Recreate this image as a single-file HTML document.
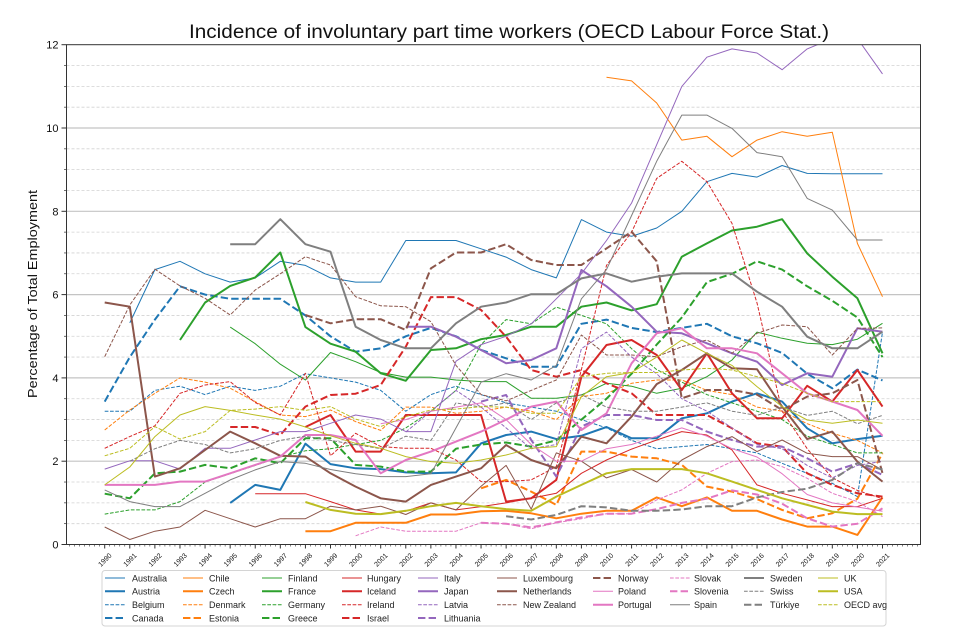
<!DOCTYPE html>
<html>
<head>
<meta charset="utf-8">
<style>
html,body{margin:0;padding:0;background:#fff;}
svg{display:block;font-family:"Liberation Sans","DejaVu Sans",sans-serif;}
</style>
</head>
<body>
<svg id="c" width="960" height="640" viewBox="0 0 960 640" xmlns="http://www.w3.org/2000/svg">
<rect x="0" y="0" width="960" height="640" fill="#fff"/>
<defs><clipPath id="pc"><rect x="66.5" y="44.7" width="854" height="499.8"/></clipPath></defs>
<g id="grid"></g>
<g id="series" clip-path="url(#pc)"></g>
<g id="ticks"></g>
<rect x="66.5" y="44.7" width="854" height="499.8" fill="none" stroke="#333" stroke-width="1"/>

<text x="509" y="38" font-size="19" text-anchor="middle" textLength="640" lengthAdjust="spacingAndGlyphs" fill="#111">Incidence of involuntary part time workers (OECD Labour Force Stat.)</text>
<text transform="translate(37,294) rotate(-90)" font-size="13" text-anchor="middle" textLength="208" lengthAdjust="spacingAndGlyphs" fill="#111">Percentage of Total Employment</text>

<g font-size="11" text-anchor="end" fill="#111">
<text x="58.5" y="548.5">0</text>
<text x="58.5" y="465.2">2</text>
<text x="58.5" y="381.9">4</text>
<text x="58.5" y="298.6">6</text>
<text x="58.5" y="215.3">8</text>
<text x="58.5" y="132">10</text>
<text x="58.5" y="48.7">12</text>
</g>

<g font-size="7" text-anchor="middle" dominant-baseline="central" fill="#111">
<text transform="translate(105.5,560.5) rotate(-45)">1990</text>
<text transform="translate(130.6,560.5) rotate(-45)">1991</text>
<text transform="translate(155.7,560.5) rotate(-45)">1992</text>
<text transform="translate(180.8,560.5) rotate(-45)">1993</text>
<text transform="translate(205.9,560.5) rotate(-45)">1994</text>
<text transform="translate(231.0,560.5) rotate(-45)">1995</text>
<text transform="translate(256.0,560.5) rotate(-45)">1996</text>
<text transform="translate(281.1,560.5) rotate(-45)">1997</text>
<text transform="translate(306.2,560.5) rotate(-45)">1998</text>
<text transform="translate(331.3,560.5) rotate(-45)">1999</text>
<text transform="translate(356.4,560.5) rotate(-45)">2000</text>
<text transform="translate(381.5,560.5) rotate(-45)">2001</text>
<text transform="translate(406.6,560.5) rotate(-45)">2002</text>
<text transform="translate(431.7,560.5) rotate(-45)">2003</text>
<text transform="translate(456.8,560.5) rotate(-45)">2004</text>
<text transform="translate(481.9,560.5) rotate(-45)">2005</text>
<text transform="translate(506.9,560.5) rotate(-45)">2006</text>
<text transform="translate(532.0,560.5) rotate(-45)">2007</text>
<text transform="translate(557.1,560.5) rotate(-45)">2008</text>
<text transform="translate(582.2,560.5) rotate(-45)">2009</text>
<text transform="translate(607.3,560.5) rotate(-45)">2010</text>
<text transform="translate(632.4,560.5) rotate(-45)">2011</text>
<text transform="translate(657.5,560.5) rotate(-45)">2012</text>
<text transform="translate(682.6,560.5) rotate(-45)">2013</text>
<text transform="translate(707.7,560.5) rotate(-45)">2014</text>
<text transform="translate(732.7,560.5) rotate(-45)">2015</text>
<text transform="translate(757.8,560.5) rotate(-45)">2016</text>
<text transform="translate(782.9,560.5) rotate(-45)">2017</text>
<text transform="translate(808.0,560.5) rotate(-45)">2018</text>
<text transform="translate(833.1,560.5) rotate(-45)">2019</text>
<text transform="translate(858.2,560.5) rotate(-45)">2020</text>
<text transform="translate(883.3,560.5) rotate(-45)">2021</text>
</g>

<rect x="102" y="570.5" width="784" height="55.5" rx="3" ry="3" fill="#fff" stroke="#d4d4d4" stroke-width="1"/>
<g id="leglines"></g>
<g font-size="9" fill="#222">
<text x="132" y="581.3">Australia</text>
<text x="132" y="594.6">Austria</text>
<text x="132" y="608">Belgium</text>
<text x="132" y="621.3">Canada</text>
<text x="209" y="581.3">Chile</text>
<text x="209" y="594.6">Czech</text>
<text x="209" y="608">Denmark</text>
<text x="209" y="621.3">Estonia</text>
<text x="288" y="581.3">Finland</text>
<text x="288" y="594.6">France</text>
<text x="288" y="608">Germany</text>
<text x="288" y="621.3">Greece</text>
<text x="367" y="581.3">Hungary</text>
<text x="367" y="594.6">Iceland</text>
<text x="367" y="608">Ireland</text>
<text x="367" y="621.3">Israel</text>
<text x="444" y="581.3">Italy</text>
<text x="444" y="594.6">Japan</text>
<text x="444" y="608">Latvia</text>
<text x="444" y="621.3">Lithuania</text>
<text x="523" y="581.3">Luxembourg</text>
<text x="523" y="594.6">Netherlands</text>
<text x="523" y="608">New Zealand</text>
<text x="618" y="581.3">Norway</text>
<text x="618" y="594.6">Poland</text>
<text x="618" y="608">Portugal</text>
<text x="694" y="581.3">Slovak</text>
<text x="694" y="594.6">Slovenia</text>
<text x="694" y="608">Spain</text>
<text x="770" y="581.3">Sweden</text>
<text x="770" y="594.6">Swiss</text>
<text x="770" y="608">Türkiye</text>
<text x="844" y="581.3">UK</text>
<text x="844" y="594.6">USA</text>
<text x="844" y="608">OECD avg</text>
</g>
</svg>
<script>
(function(){
var NS="http://www.w3.org/2000/svg";
function X(y){return 104.7+(y-1990)*25.09;}
function Y(v){return 544.5-v*41.65;}
function el(t,a,p){var e=document.createElementNS(NS,t);for(var k in a)e.setAttribute(k,a[k]);p.appendChild(e);return e;}
var grid=document.getElementById('grid'),ticks=document.getElementById('ticks');
// minor grid dashed
for(var v=0.5;v<12;v+=0.5){
  if(Math.abs(v/2-Math.round(v/2))<1e-6) continue;
  el('line',{x1:66.5,x2:920.5,y1:Y(v),y2:Y(v),stroke:'#d2d2d2','stroke-width':0.8,'stroke-dasharray':'3,2'},grid);
}
for(var v=2;v<12;v+=2){
  el('line',{x1:66.5,x2:920.5,y1:Y(v),y2:Y(v),stroke:'#c4c4c4','stroke-width':1.2},grid);
}
// y ticks
for(var v=0;v<=12;v+=0.5){
  var maj=Math.abs(v/2-Math.round(v/2))<1e-6;
  el('line',{x1:66.5-(maj?5:2.5),x2:66.5,y1:Y(v),y2:Y(v),stroke:'#333','stroke-width':maj?1:0.7},ticks);
}
// x ticks
for(var i=0;i<=170;i++){
  var yr=1988.6+i*0.2; if(yr>2022.45) break;
  var maj=Math.abs(yr-Math.round(yr))<1e-6;
  var isYear=maj&&Math.round(yr)>=1990&&Math.round(yr)<=2021;
  el('line',{x1:X(yr),x2:X(yr),y1:544.5,y2:544.5+(isYear?4:2),stroke:'#333','stroke-width':isYear?1:0.6},ticks);
}
var B='#1f77b4',O='#ff7f0e',G='#2ca02c',R='#d62728',P='#9467bd',N='#8c564b',K='#e377c2',A='#7f7f7f',L='#bcbd22';
// [color, thick, dashed, start, values]
var S=[
[B,0,0,1991,[5.32,6.6,6.8,6.5,6.3,6.4,6.8,6.7,6.4,6.3,6.3,7.3,7.3,7.3,7.1,6.9,6.6,6.4,7.8,7.5,7.4,7.6,8.0,8.71,8.91,8.82,9.1,8.91,8.9,8.9,8.9]],
[B,1,0,1995,[1.0,1.43,1.31,2.42,1.93,1.83,1.81,1.73,1.71,1.73,2.43,2.63,2.71,2.53,2.61,2.82,2.55,2.55,3.03,3.15,3.43,3.63,3.43,2.79,2.43,2.53,2.61]],
[B,0,1,1990,[3.2,3.2,3.7,3.8,3.6,3.8,3.7,3.8,4.1,4.0,3.9,3.7,3.2,3.6,3.8,3.6,3.4,3.3,3.2,3.0,2.8,2.5,2.3,2.35,2.4,2.3,2.2,1.95,1.71,1.47,1.15,5.1]],
[B,1,1,1990,[3.43,4.5,5.4,6.2,6.0,5.9,5.9,5.9,5.5,5.0,4.63,4.71,5.0,5.2,5.0,4.67,4.47,4.27,4.27,5.3,5.4,5.2,5.1,5.2,5.3,5.0,4.83,4.6,4.1,3.75,4.2,3.94]],
[O,0,0,2010,[11.22,11.13,10.6,9.71,9.8,9.31,9.71,9.91,9.8,9.9,7.23,5.95]],
[O,1,0,1998,[0.32,0.32,0.52,0.52,0.52,0.72,0.72,0.8,0.81,0.75,0.63,0.74,0.81,0.81,1.13,0.92,1.13,0.81,0.81,0.6,0.43,0.43,0.23,1.13]],
[O,0,1,1990,[2.75,3.23,3.63,4.0,3.9,3.75,3.43,3.11,3.07,3.23,2.95,2.74,3.3,3.3,3.15,3.2,3.3,3.2,3.0,3.55,3.63,3.87,3.95,3.95,3.7,3.6,3.3,3.2,2.9,2.67,2.5,2.2]],
[O,1,1,2005,[1.35,1.55,1.27,0.95,2.23,2.23,2.11,2.07,1.91,1.39,1.27,1.09,0.83,0.63,0.75,1.1,2.19]],
[G,0,0,1995,[5.22,4.82,4.33,3.95,4.61,4.39,4.13,4.02,4.02,3.95,3.91,3.91,3.51,3.51,3.59,3.87,3.8,3.63,3.75,4.03,4.43,5.1,4.95,4.83,4.8,4.93,5.31]],
[G,1,0,1993,[4.91,5.81,6.21,6.41,7.01,5.22,4.82,4.63,4.11,3.93,4.67,4.71,4.93,5.03,5.23,5.23,5.71,5.81,5.62,5.77,6.91,7.23,7.54,7.63,7.81,6.99,6.43,5.91,4.59]],
[G,0,1,1990,[0.73,0.83,0.83,1.03,1.5,1.7,1.9,2.1,2.25,2.3,2.4,2.5,2.8,3.2,3.7,4.8,5.4,5.3,5.7,5.5,5.3,4.7,4.2,3.9,3.6,3.4,3.2,3.0,2.6,2.4,2.2,2.2]],
[G,1,1,1990,[1.22,1.11,1.71,1.75,1.91,1.83,2.07,1.95,2.55,2.55,1.91,1.87,1.75,1.75,2.3,2.4,2.45,2.35,2.5,3.0,3.5,4.1,4.8,5.45,6.3,6.5,6.8,6.6,6.2,5.85,5.45,4.5]],
[R,0,0,1996,[1.22,1.22,1.22,1.03,0.83,0.73,0.8,1.0,0.83,0.91,1.0,1.11,1.23,1.71,2.03,2.29,2.51,2.71,2.63,2.27,1.43,1.23,1.07,0.91,0.91,1.11]],
[R,1,0,1998,[2.82,3.11,2.23,2.23,3.11,3.11,3.11,3.11,1.03,1.11,1.55,4.03,4.79,4.91,4.55,3.71,4.59,3.63,3.03,3.03,3.81,3.43,4.19,3.31]],
[R,0,1,1990,[2.31,2.59,2.85,3.63,3.83,3.91,3.41,3.11,4.11,2.13,2.67,2.35,2.31,2.31,2.03,1.51,1.51,1.55,1.87,4.2,6.7,7.5,8.79,9.2,8.71,7.71,5.8,3.2,2.3,1.6,1.3,1.1]],
[R,1,1,1995,[2.82,2.82,2.63,3.31,3.59,3.62,3.83,4.75,5.94,5.94,5.63,4.99,4.19,4.03,4.19,3.87,3.63,3.11,3.11,3.11,2.79,2.43,2.35,1.71,1.43,1.23,1.15]],
[P,0,0,1990,[1.81,2.01,2.01,1.81,2.31,2.31,2.51,2.71,2.71,2.91,3.11,3.01,2.71,2.71,4.4,4.8,5.0,5.3,5.9,6.5,7.3,8.2,9.6,11.0,11.7,11.9,11.8,11.4,11.9,12.15,12.15,11.3]],
[P,1,0,2002,[5.23,5.23,4.99,4.67,4.35,4.43,4.71,6.59,6.2,5.71,5.11,5.07,4.83,4.59,4.39,3.83,4.11,4.03,5.19,5.11]],
[P,0,1,2002,[2.7,3.2,3.7,3.3,2.8,2.3,2.4,4.7,5.1,4.5,4.1,3.5,3.2,2.8,2.4,2.3,1.9,1.6,1.9,2.0]],
[P,1,1,2005,[3.43,3.59,2.51,1.63,2.83,3.11,3.11,2.99,2.99,2.71,2.51,2.35,2.35,2.07,1.75,1.95,1.67]],
[N,0,0,1990,[0.42,0.12,0.32,0.42,0.82,0.62,0.42,0.62,0.62,0.92,0.83,0.92,0.72,1.0,0.83,1.4,1.9,0.85,2.2,2.0,1.6,1.8,1.5,2.03,2.35,2.59,2.23,2.51,2.19,2.11,2.11,1.79]],
[N,1,0,1990,[5.81,5.71,1.63,1.83,2.27,2.71,2.43,2.13,2.11,1.71,1.39,1.11,1.03,1.43,1.63,1.83,2.39,2.03,1.83,2.59,2.43,3.07,3.85,4.19,4.59,4.23,4.21,3.31,2.53,2.71,1.99,1.51]],
[N,0,1,1990,[4.51,5.75,6.61,6.21,5.91,5.51,6.11,6.5,6.91,6.71,5.95,5.73,5.71,5.35,4.3,3.6,3.45,3.7,3.95,5.03,4.55,4.55,4.51,4.75,4.91,4.59,5.07,5.27,5.23,4.55,5.19,5.2]],
[N,1,1,1998,[5.51,5.31,5.41,5.41,5.15,6.63,7.01,7.01,7.21,6.83,6.71,6.71,7.11,7.51,6.8,3.51,3.71,3.71,3.6,3.23,3.55,3.63,3.95,1.71]],
[K,0,0,2001,[2.9,3.0,3.2,3.3,3.4,3.0,2.4,2.0,2.0,2.3,2.4,2.6,2.8,2.6,2.3,2.1,1.7,1.2,1.0,0.9,0.8]],
[K,1,0,1990,[1.43,1.43,1.43,1.51,1.51,1.71,1.91,2.11,2.63,2.63,2.51,1.71,2.03,2.23,2.47,2.71,3.0,3.31,3.43,2.75,3.15,4.35,5.07,5.19,4.71,4.71,4.59,4.11,3.63,3.43,3.23,2.61]],
[K,0,1,2000,[0.21,0.42,0.32,0.32,0.32,0.52,0.5,0.38,0.52,0.62,0.74,0.74,1.07,1.31,1.71,1.99,2.03,1.87,1.59,1.23,1.03,0.67]],
[K,1,1,2005,[0.52,0.5,0.41,0.53,0.65,0.74,0.74,0.85,1.0,1.1,1.3,1.2,0.98,0.63,0.43,0.5,0.87]],
[A,0,0,1990,[1.31,1.03,0.91,0.91,1.23,1.55,1.79,1.99,1.95,1.8,1.7,1.63,1.63,1.7,2.8,3.9,4.1,3.95,4.3,5.9,6.6,7.9,9.2,10.31,10.31,9.99,9.41,9.31,8.31,8.03,7.31,7.31]],
[A,1,0,1995,[7.21,7.21,7.81,7.21,7.03,5.23,4.91,4.71,4.71,5.31,5.71,5.81,6.01,6.01,6.39,6.51,6.31,6.43,6.51,6.51,6.51,6.07,5.71,4.99,4.71,4.71,5.11]],
[A,0,1,1991,[2.0,2.3,2.5,2.4,2.2,2.3,2.5,2.6,2.5,2.4,2.3,2.6,2.5,3.4,3.3,3.4,3.0,3.4,3.6,3.3,3.2,3.2,3.3,3.4,3.2,3.1,3.3,3.1,3.2,2.9,3.1]],
[A,1,1,2006,[0.68,0.6,0.71,0.92,0.89,0.81,0.81,0.84,0.92,0.92,1.13,1.26,1.34,1.55,1.95,1.8]],
[L,0,0,1990,[1.43,1.86,2.59,3.11,3.31,3.22,3.11,3.01,2.82,2.61,2.43,2.31,2.11,1.99,1.95,2.03,2.15,2.31,2.35,3.55,4.03,4.13,4.5,4.91,4.59,4.3,3.79,3.31,2.99,2.91,2.99,2.91]],
[L,1,0,1998,[1.02,0.83,0.74,0.73,0.81,0.92,1.0,0.92,0.85,0.81,1.15,1.43,1.71,1.81,1.81,1.81,1.71,1.51,1.31,1.11,0.95,0.79,0.73,0.73]],
[L,0,1,1990,[2.13,2.31,2.83,2.53,2.71,3.22,3.25,3.31,3.22,3.31,3.01,2.83,3.07,3.23,3.25,3.31,3.3,3.15,3.15,4.03,4.11,4.13,4.13,4.19,4.23,4.19,4.03,3.87,3.63,3.43,3.43,3.43]]
];
var sg=document.getElementById('series'),lg=document.getElementById('leglines');
var LX=[105,183,262,342,418,497,593,670,744,818];
var RY=[578,591.3,604.7,618];
S.forEach(function(s,i){
  var w=s[1]?2:1;
  var da=s[2]?(s[1]?'7.4,3.2':'3.7,1.6'):null;
  var d='';
  s[4].forEach(function(v,k){d+=(k?'L':'M')+X(s[3]+k).toFixed(1)+','+Y(v).toFixed(1);});
  var a={d:d,fill:'none',stroke:s[0],'stroke-width':w,'stroke-linejoin':'round'};
  if(da)a['stroke-dasharray']=da;
  el('path',a,sg);
  var col,row;
  if(i<20){col=Math.floor(i/4);row=i%4;}else{col=5+Math.floor((i-20)/3);row=(i-20)%3;}
  var b={x1:LX[col],x2:LX[col]+20,y1:RY[row],y2:RY[row],stroke:s[0],'stroke-width':w};
  if(da)b['stroke-dasharray']=da;
  el('line',b,lg);
});
})();
</script>
</body>
</html>
